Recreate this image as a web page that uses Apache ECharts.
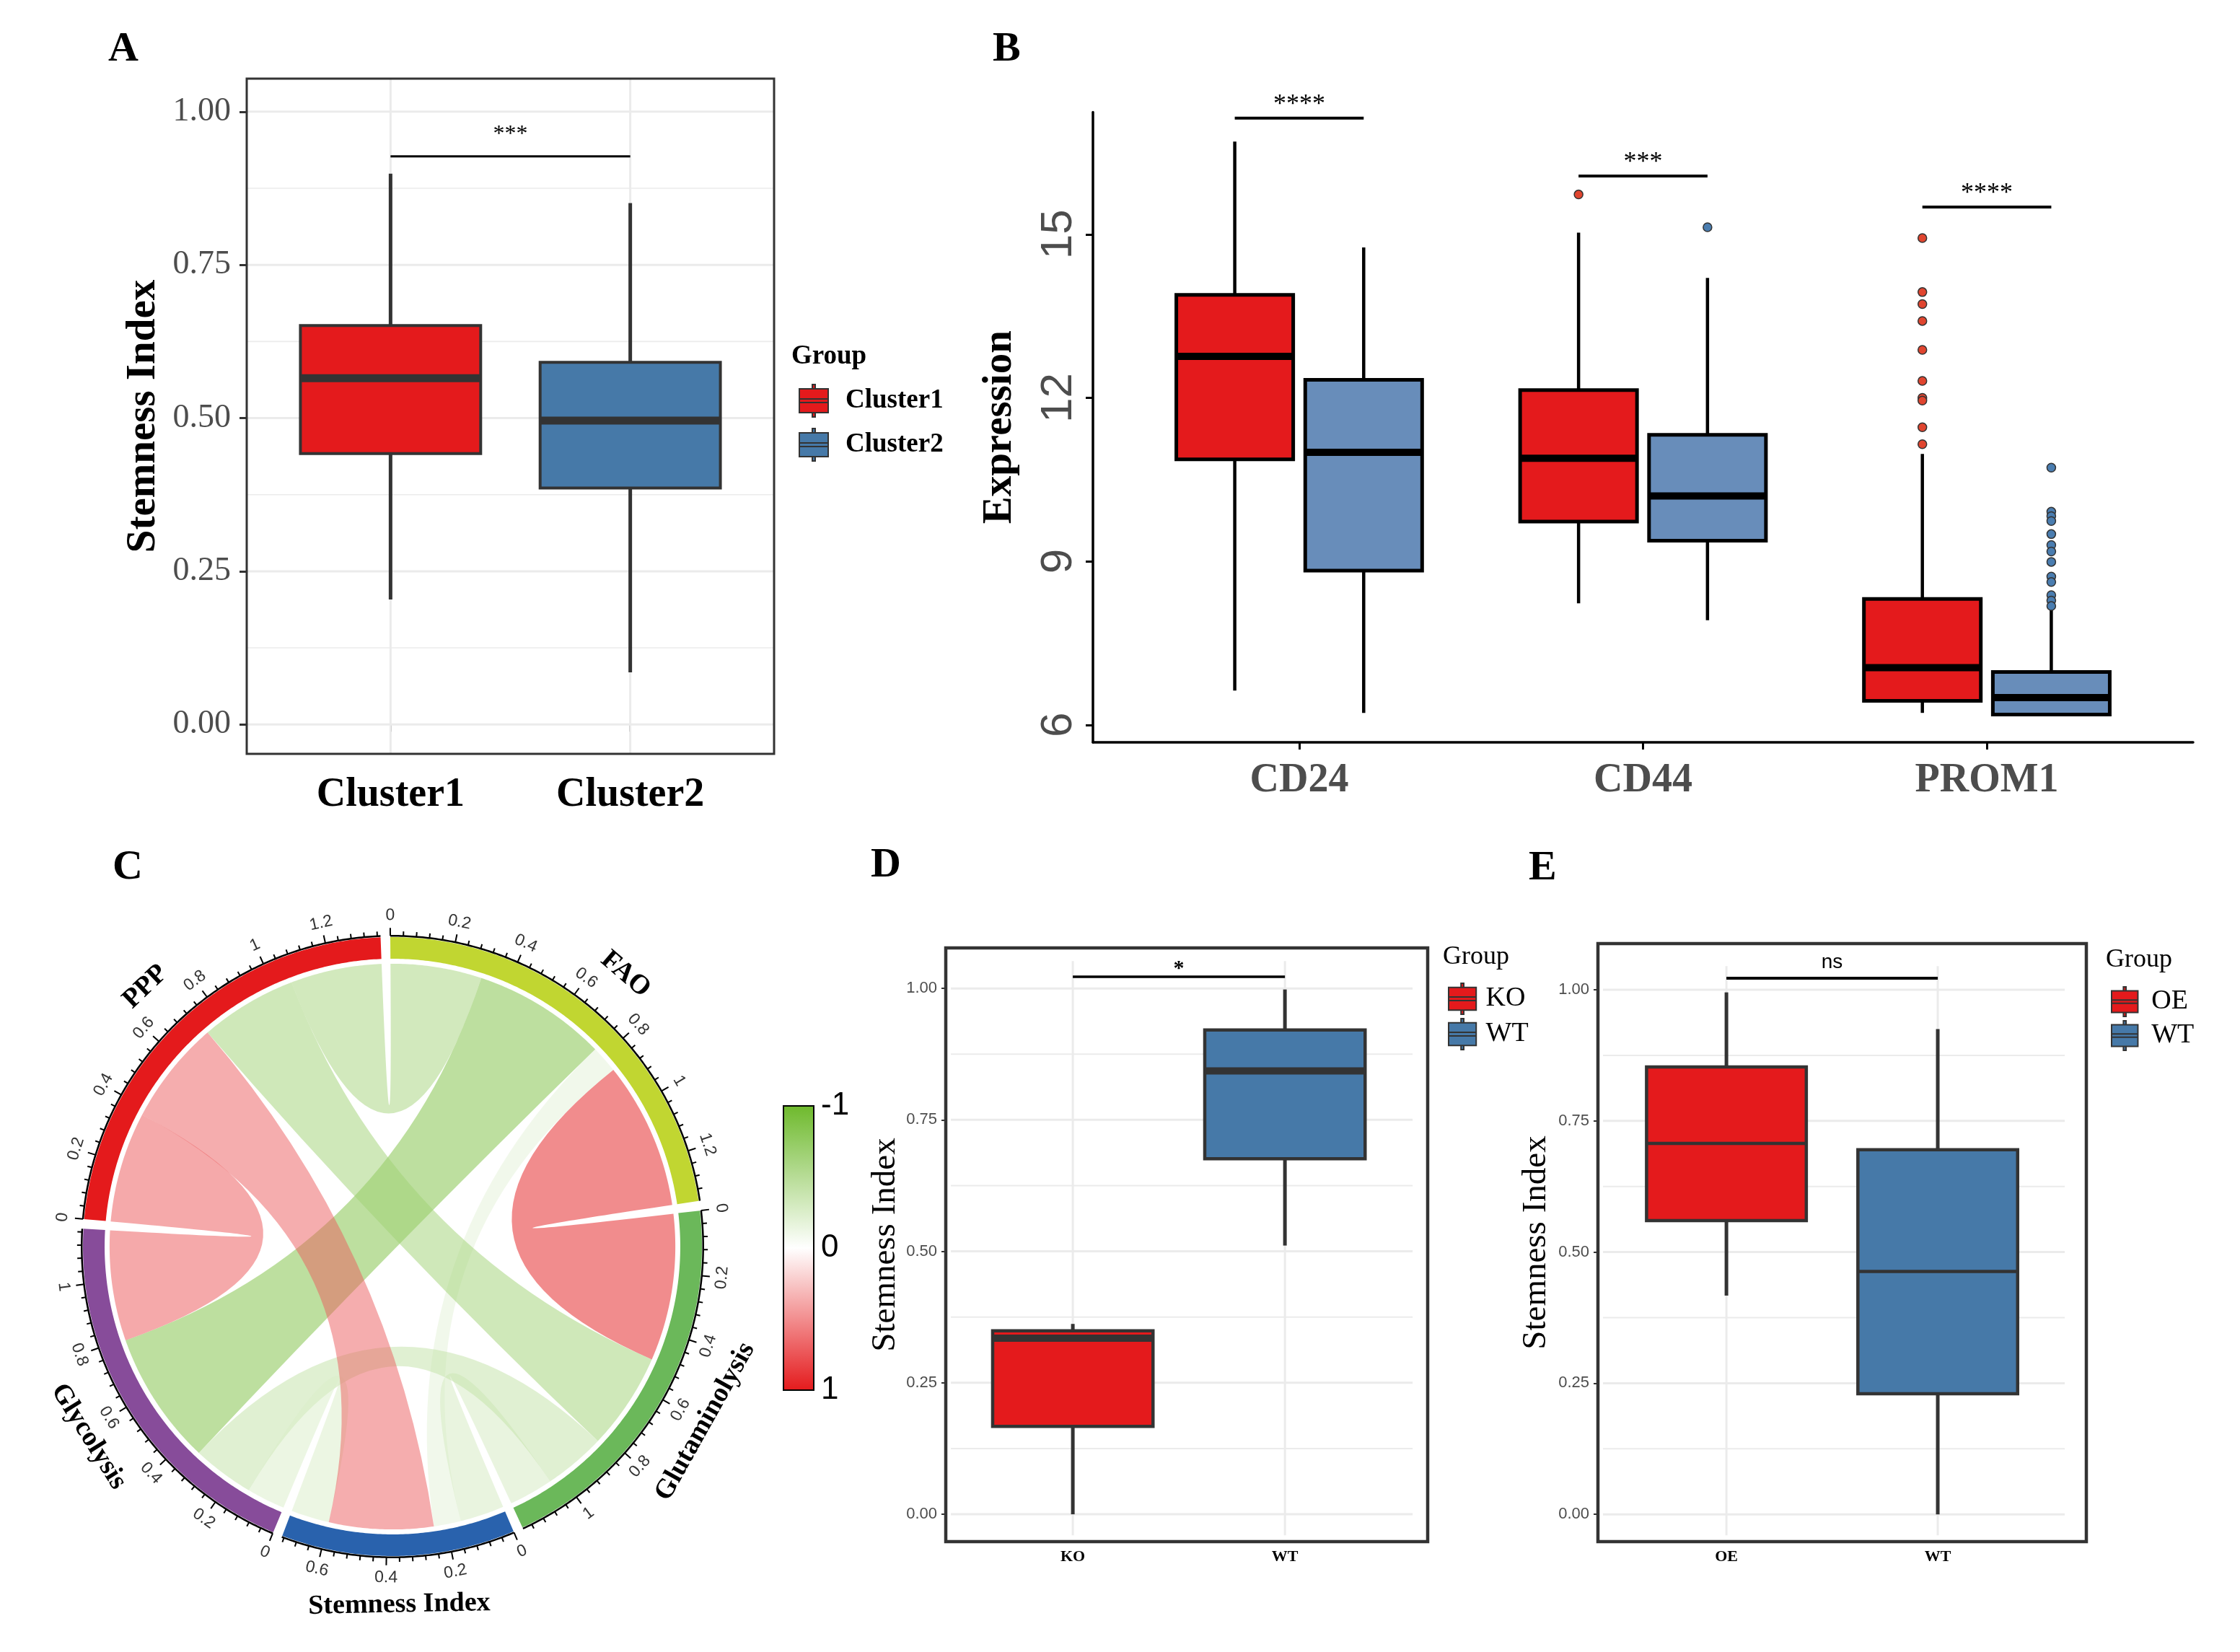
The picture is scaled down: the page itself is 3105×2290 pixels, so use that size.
<!DOCTYPE html>
<html><head><meta charset="utf-8">
<script src="https://cdn.jsdelivr.net/npm/echarts@6/dist/echarts.min.js"></script>
<style>html,body{margin:0;padding:0;background:#fff}#main{width:3105px;height:2290px}</style>
</head><body><div id="main"></div>
<script>
// ================= DATA =================
// Panel A  (box stats: [min, Q1, median, Q3, max])
const groupsA = ['Cluster1', 'Cluster2'];
const statsA_Cluster1 = [0.204, 0.442, 0.565, 0.651, 0.899];
const statsA_Cluster2 = [0.085, 0.386, 0.496, 0.591, 0.851];
const sigA = ['***'];
const sigA_y = [0.927];

// Panel B
const genesB = ['CD24', 'CD44', 'PROM1'];
const statsB_Cluster1 = [[6.63, 10.87, 12.76, 13.89, 16.70], [8.23, 9.73, 10.89, 12.14, 15.03], [6.22, 6.44, 7.05, 8.31, 10.97]];
const statsB_Cluster2 = [[6.22, 8.83, 11.00, 12.33, 14.76], [7.92, 9.38, 10.20, 11.32, 14.20], [6.18, 6.19, 6.50, 6.97, 8.16]];
const outliersB_Cluster1 = [[], [15.73], [14.93, 13.94, 13.72, 13.41, 12.88, 12.31, 12.00, 11.95, 11.46, 11.15]];
const outliersB_Cluster2 = [[], [15.13], [10.72, 9.91, 9.83, 9.74, 9.50, 9.30, 9.18, 8.99, 8.72, 8.62, 8.38, 8.28, 8.18]];
const sigB = ['****', '***', '****'];
const sigB_y = [17.13, 16.07, 15.50];
const ticksB = [6, 9, 12, 15];

// Panel C (chord of correlations)
const chordSectors = ['FAO', 'Glutaminolysis', 'Stemness Index', 'Glycolysis', 'PPP'];
const chordSectorColors = ['#C1D631', '#6BB85A', '#2962AD', '#874C9A', '#E41A1C'];
const linkSource = ['FAO', 'FAO', 'FAO', 'FAO', 'Glutaminolysis', 'Glutaminolysis', 'Glutaminolysis', 'Stemness Index', 'Stemness Index', 'Glycolysis'];
const linkTarget = ['Glutaminolysis', 'Stemness Index', 'Glycolysis', 'PPP', 'Stemness Index', 'Glycolysis', 'PPP', 'Glycolysis', 'PPP', 'PPP'];
const linkCorr = [0.50, -0.092, -0.455, -0.31, -0.15, -0.21, -0.33, -0.13, 0.355, 0.375];
const colorbarTicks = [-1, 0, 1];

// Panel D
const groupsD = ['KO', 'WT'];
const statsD_KO = [0.000, 0.167, 0.335, 0.349, 0.362];
const statsD_WT = [0.511, 0.676, 0.843, 0.921, 0.998];
const sigD = ['*'];
const sigD_y = [1.022];

// Panel E
const groupsE = ['OE', 'WT'];
const statsE_OE = [0.417, 0.560, 0.707, 0.853, 0.995];
const statsE_WT = [0.000, 0.230, 0.463, 0.695, 0.925];
const sigE = ['ns'];
const sigE_y = [1.022];

// shared tick values for stemness-index axes
const ticksStem = [0, 0.25, 0.5, 0.75, 1];
const minorStem = [0.125, 0.375, 0.625, 0.875];

// ================= STYLE / HELPERS =================
const SERIF = '"Liberation Serif", "DejaVu Serif", serif';
const SANS = '"Liberation Sans", Arial, sans-serif';
const RED = '#E41A1C', BLUE = '#4679A8', BLUE_B = '#688DBA';
const GREEN_RGB = [110, 185, 44], RED_RGB = [228, 26, 28];
const KEY_ICON = 'path://M18,0L22,0L22,6L18,6Z M0,6L40,6L40,20L0,20Z M0,20L40,20L40,25L0,25Z M0,25L40,25L40,39L0,39Z M18,39L22,39L22,45L18,45Z';

function solidCorrColor(r) {
  const t = Math.min(1, Math.abs(r));
  const base = r > 0 ? RED_RGB : GREEN_RGB;
  const c = base.map(b => Math.round(255 + (b - 255) * t));
  return 'rgb(' + c.join(',') + ')';
}
function linkColor(r) {
  const t = Math.min(1, Math.abs(r) * 2);
  const base = r > 0 ? RED_RGB : GREEN_RGB;
  const c = base.map(b => Math.round(255 + (b - 255) * t));
  return 'rgba(' + c.join(',') + ',0.5)';
}
function ln(p0, p1, stroke, w, cap) {
  return { type: 'line', shape: { x1: p0[0], y1: p0[1], x2: p1[0], y2: p1[1] }, style: { stroke: stroke, lineWidth: w, lineCap: cap || 'butt' } };
}
function boxRender(cfg) {
  return function (params, api) {
    const x = api.value(0), mn = api.value(1), q1 = api.value(2), md = api.value(3), q3 = api.value(4), mx = api.value(5);
    const hw = cfg.halfWidth;
    const tl = api.coord([x - hw, q3]), br = api.coord([x + hw, q1]);
    const ch = [
      ln(api.coord([x, mn]), api.coord([x, q1]), cfg.stroke, cfg.whisker),
      ln(api.coord([x, q3]), api.coord([x, mx]), cfg.stroke, cfg.whisker),
      { type: 'rect', shape: { x: tl[0], y: tl[1], width: br[0] - tl[0], height: br[1] - tl[1] }, style: { fill: api.visual('color'), stroke: cfg.stroke, lineWidth: cfg.box } },
      ln(api.coord([x - hw, md]), api.coord([x + hw, md]), cfg.stroke, cfg.median)
    ];
    return { type: 'group', children: ch };
  };
}
function frameRender(cfg) {
  return function (params, api) {
    const cs = params.coordSys;
    const ch = [];
    cfg.minor.forEach(v => ch.push(ln(api.coord([cfg.px0, v]), api.coord([cfg.px1, v]), '#EBEBEB', cfg.minorW)));
    cfg.major.forEach(v => ch.push(ln(api.coord([cfg.px0, v]), api.coord([cfg.px1, v]), '#EBEBEB', cfg.majorW)));
    cfg.cats.forEach(x => ch.push(ln(api.coord([x, cfg.py0]), api.coord([x, cfg.py1]), '#EBEBEB', cfg.majorW)));
    ch.push({ type: 'rect', shape: { x: cs.x, y: cs.y, width: cs.width, height: cs.height }, style: { fill: null, stroke: '#333', lineWidth: cfg.frameW } });
    return { type: 'group', children: ch };
  };
}
function sigRender(texts, cfg) {
  return function (params, api) {
    const i = params.dataIndex;
    const p0 = api.coord([api.value(0), api.value(2)]), p1 = api.coord([api.value(1), api.value(2)]);
    return { type: 'group', children: [
      ln(p0, p1, '#000', cfg.lw),
      { type: 'text', x: (p0[0] + p1[0]) / 2, y: p0[1] - cfg.gap, style: { text: texts[i], fill: '#000', font: cfg.font, align: 'center', verticalAlign: 'bottom' } }
    ] };
  };
}

// ---------- chord layout (computed from the link table) ----------
const nS = chordSectors.length;
const sIdx = n => chordSectors.indexOf(n);
const sectorTotal = chordSectors.map(s => linkCorr.reduce((a, r, k) => a + ((linkSource[k] === s || linkTarget[k] === s) ? Math.abs(r) : 0), 0));
const GAP_DEG = 1.8, CHORD_START = -0.4;
const degPerUnit = (360 - nS * GAP_DEG) / sectorTotal.reduce((a, b) => a + b, 0);
const sectorStart = [];
(function () { let acc = CHORD_START; sectorTotal.forEach((t, i) => { sectorStart[i] = acc; acc += t * degPerUnit + GAP_DEG; }); })();
const linkSpan = linkCorr.map(() => ({}));
chordSectors.forEach((s, i) => {
  const order = chordSectors.map((_, j) => j).filter(j => j !== i).sort((p, q) => ((i - p + nS) % nS) - ((i - q + nS) % nS));
  let pos = 0;
  order.forEach(j => {
    linkCorr.forEach((r, k) => {
      const a = sIdx(linkSource[k]), b = sIdx(linkTarget[k]);
      if ((a === i && b === j) || (a === j && b === i)) { linkSpan[k][i] = [pos, pos + Math.abs(r)]; pos += Math.abs(r); }
    });
  });
});
const R_OUT = 1.0, R_IN = 0.930, R_LINK = 0.914, R_AXIS = 1.004, R_MINOR = 1.019, R_MAJOR = 1.030, R_TICKLAB = 1.070, R_NAME = 1.158;
function pPt(api, r, deg) { const a = deg * Math.PI / 180; return api.coord([r * Math.sin(a), r * Math.cos(a)]); }
function arcPts(api, r, d0, d1) {
  const n = Math.max(2, Math.ceil(Math.abs(d1 - d0) / 0.5)); const pts = [];
  for (let k = 0; k <= n; k++) pts.push(pPt(api, r, d0 + (d1 - d0) * k / n));
  return pts;
}
function textRot(deg) {
  const t = ((deg % 360) + 360) % 360; const rad = t * Math.PI / 180;
  return (t > 90 && t < 270) ? Math.PI - rad : -rad;
}
function renderLink(params, api) {
  const k = params.dataIndex;
  const i = sIdx(linkSource[k]), j = sIdx(linkTarget[k]);
  const a1 = sectorStart[i] + linkSpan[k][i][0] * degPerUnit, a2 = sectorStart[i] + linkSpan[k][i][1] * degPerUnit;
  const b1 = sectorStart[j] + linkSpan[k][j][0] * degPerUnit, b2 = sectorStart[j] + linkSpan[k][j][1] * degPerUnit;
  const c = api.coord([0, 0]);
  const A = arcPts(api, R_LINK, a1, a2), B = arcPts(api, R_LINK, b1, b2);
  let d = 'M' + A[0][0] + ' ' + A[0][1];
  A.slice(1).forEach(p => { d += ' L' + p[0] + ' ' + p[1]; });
  d += ' Q' + c[0] + ' ' + c[1] + ' ' + B[0][0] + ' ' + B[0][1];
  B.slice(1).forEach(p => { d += ' L' + p[0] + ' ' + p[1]; });
  d += ' Q' + c[0] + ' ' + c[1] + ' ' + A[0][0] + ' ' + A[0][1] + ' Z';
  return { type: 'path', shape: { pathData: d }, style: { fill: linkColor(linkCorr[k]), stroke: null } };
}
function renderSector(params, api) {
  const i = params.dataIndex;
  const d0 = sectorStart[i], total = sectorTotal[i], d1 = d0 + total * degPerUnit;
  const ch = [];
  ch.push({ type: 'polygon', shape: { points: arcPts(api, R_OUT, d0, d1).concat(arcPts(api, R_IN, d1, d0)) }, style: { fill: chordSectorColors[i] } });
  ch.push({ type: 'polyline', shape: { points: arcPts(api, R_AXIS, d0, d1) }, style: { stroke: '#000', lineWidth: 2.5, fill: null } });
  const step = 0.04, nT = Math.floor(total / step + 1e-6);
  for (let k = 0; k <= nT; k++) {
    const u = k * step, deg = d0 + u * degPerUnit, major = (k % 5 === 0);
    ch.push(ln(pPt(api, R_AXIS, deg), pPt(api, major ? R_MAJOR : R_MINOR, deg), '#000', 2));
    if (major) {
      const p = pPt(api, R_TICKLAB, deg);
      ch.push({ type: 'text', x: p[0], y: p[1], rotation: textRot(deg), style: { text: String(+u.toFixed(1)), font: '23px ' + SANS, fill: '#333', align: 'center', verticalAlign: 'middle' } });
    }
  }
  const mid = (d0 + d1) / 2, pn = pPt(api, R_NAME, mid);
  ch.push({ type: 'text', x: pn[0], y: pn[1], rotation: textRot(mid), style: { text: chordSectors[i], font: 'bold 38px ' + SERIF, fill: '#000', align: 'center', verticalAlign: 'middle' } });
  return { type: 'group', children: ch };
}
function renderColorbar(params, api) {
  const cs = params.coordSys;
  const stops = [-1, -0.75, -0.5, -0.25, 0, 0.25, 0.5, 0.75, 1].map(v => ({ offset: (v + 1) / 2, color: solidCorrColor(v) }));
  return { type: 'rect', shape: { x: cs.x, y: cs.y, width: cs.width, height: cs.height },
    style: { fill: { type: 'linear', x: 0, y: 0, x2: 0, y2: 1, colorStops: stops }, stroke: '#000', lineWidth: 2 } };
}

// ================= OPTION =================
const DODGE = 0.1875;
const boxCfgA = { halfWidth: 0.376, stroke: '#333', whisker: 5, box: 4, median: 11 };
const boxCfgB = { halfWidth: 0.17, stroke: '#000', whisker: 4.5, box: 5, median: 10 };
const boxCfgD = { halfWidth: 0.378, stroke: '#333', whisker: 5, box: 4.5, median: 10 };
const boxCfgE = { halfWidth: 0.378, stroke: '#333', whisker: 5, box: 4.5, median: 4.5 };

function stemYAxis(grid, min, max, opts) {
  return {
    gridIndex: grid, type: 'value', min: min, max: max,
    axisLine: { show: false }, splitLine: { show: false },
    axisTick: { show: true, customValues: ticksStem, length: opts.tickLen, lineStyle: { color: '#333', width: opts.tickW } },
    axisLabel: { customValues: ticksStem, formatter: v => (+v).toFixed(2), fontFamily: opts.labFont, fontSize: opts.labSize, color: '#4D4D4D', margin: opts.labMargin, padding: opts.labPad || 0 },
    name: 'Stemness Index', nameLocation: 'middle', nameRotate: 90, nameGap: opts.nameGap, nameMoveOverlap: false,
    nameTextStyle: { fontFamily: SERIF, fontWeight: opts.nameWeight, fontSize: opts.nameSize, color: '#000' }
  };
}
function catXAxis(grid, min, max, cats, opts) {
  const vals = cats.map((_, i) => i + 1);
  return {
    gridIndex: grid, type: 'value', min: min, max: max,
    axisLine: { show: !!opts.line, lineStyle: { color: '#000', width: 3.5 } }, splitLine: { show: false },
    axisTick: { show: true, customValues: vals, length: opts.tickLen, lineStyle: { color: opts.tickColor || '#333', width: opts.tickW } },
    axisLabel: { customValues: vals, formatter: v => cats[Math.round(v) - 1], fontFamily: SERIF, fontWeight: 'bold', fontSize: opts.labSize, color: opts.labColor || '#000', margin: opts.labMargin }
  };
}

const option = {
  backgroundColor: '#ffffff',
  animation: false,
  title: [
    { text: 'A', left: 150, top: 40, padding: 0, textStyle: { fontFamily: SERIF, fontWeight: 'bold', fontSize: 58, color: '#000' } },
    { text: 'B', left: 1376, top: 40, padding: 0, textStyle: { fontFamily: SERIF, fontWeight: 'bold', fontSize: 58, color: '#000' } },
    { text: 'C', left: 156, top: 1174, padding: 0, textStyle: { fontFamily: SERIF, fontWeight: 'bold', fontSize: 58, color: '#000' } },
    { text: 'D', left: 1207, top: 1171, padding: 0, textStyle: { fontFamily: SERIF, fontWeight: 'bold', fontSize: 58, color: '#000' } },
    { text: 'E', left: 2119, top: 1175, padding: 0, textStyle: { fontFamily: SERIF, fontWeight: 'bold', fontSize: 58, color: '#000' } },
    { text: 'Group', left: 1097, top: 476, padding: 0, textStyle: { fontFamily: SERIF, fontWeight: 'bold', fontSize: 37, color: '#000' } },
    { text: 'Group', left: 2000, top: 1309, padding: 0, textStyle: { fontFamily: SERIF, fontWeight: 'normal', fontSize: 36, color: '#000' } },
    { text: 'Group', left: 2919, top: 1313, padding: 0, textStyle: { fontFamily: SERIF, fontWeight: 'normal', fontSize: 36, color: '#000' } }
  ],
  legend: [
    { data: groupsA.map(n => ({ name: n, icon: KEY_ICON })), orient: 'vertical', left: 1102, top: 527, itemWidth: 42, itemHeight: 45, itemGap: 14, selectedMode: false,
      itemStyle: { borderColor: '#333', borderWidth: 2 }, textStyle: { fontFamily: SERIF, fontWeight: 'bold', fontSize: 37, color: '#000', padding: [0, 0, 0, 18] } },
    { data: groupsD.map(n => ({ name: n, icon: KEY_ICON })), orient: 'vertical', left: 2002, top: 1357, itemWidth: 39, itemHeight: 43, itemGap: 4, selectedMode: false,
      itemStyle: { borderColor: '#333', borderWidth: 2 }, textStyle: { fontFamily: SERIF, fontSize: 38, color: '#000', padding: [0, 0, 0, 8] } },
    { data: groupsE.map(n => ({ name: n, icon: KEY_ICON })), orient: 'vertical', left: 2921, top: 1362, itemWidth: 38, itemHeight: 41, itemGap: 4, selectedMode: false,
      itemStyle: { borderColor: '#333', borderWidth: 2 }, textStyle: { fontFamily: SERIF, fontSize: 38, color: '#000', padding: [0, 0, 0, 13] } }
  ],
  grid: [
    { left: 342, top: 109, width: 731, height: 936 },            // A
    { left: 1515, top: 155.5, width: 1525, height: 873.5 },       // B
    { left: 7.75, top: 1191.75, width: 1072.5, height: 1072.5 },  // C chord
    { left: 1086, top: 1533, width: 42, height: 394 },            // C colour bar
    { left: 1311, top: 1314, width: 668, height: 823 },           // D
    { left: 2215, top: 1308, width: 677, height: 829 }            // E
  ],
  xAxis: [
    catXAxis(0, 0.4, 2.6, groupsA, { tickLen: 10, tickW: 3, labSize: 56, labMargin: 30 }),
    catXAxis(1, 0.4, 3.6, genesB, { line: true, tickLen: 10, tickW: 3, tickColor: '#000', labSize: 56, labColor: '#4D4D4D', labMargin: 26 }),
    { gridIndex: 2, type: 'value', min: -1.25, max: 1.25, show: false },
    { gridIndex: 3, type: 'value', min: 0, max: 1, show: false },
    catXAxis(4, 0.401, 2.673, groupsD, { tickLen: 6, tickW: 2, labSize: 22, labMargin: 10 }),
    catXAxis(5, 0.392, 2.703, groupsE, { tickLen: 6, tickW: 2, labSize: 22, labMargin: 10 })
  ],
  yAxis: [
    stemYAxis(0, -0.048, 1.054, { tickLen: 10, tickW: 3, labFont: SERIF, labSize: 46, labMargin: 22, nameGap: 114, nameWeight: 'bold', nameSize: 57 }),
    { gridIndex: 1, type: 'value', min: 5.68, max: 17.24,
      axisLine: { show: true, lineStyle: { color: '#000', width: 3.5 } }, splitLine: { show: false },
      axisTick: { show: true, customValues: ticksB, length: 10, lineStyle: { color: '#000', width: 3 } },
      axisLabel: { customValues: ticksB, rotate: 90, fontFamily: SANS, fontSize: 62, color: '#4D4D4D', margin: 16 },
      name: 'Expression', nameLocation: 'middle', nameRotate: 90, nameGap: 100, nameMoveOverlap: false,
      nameTextStyle: { fontFamily: SERIF, fontWeight: 'bold', fontSize: 57, color: '#000' } },
    { gridIndex: 2, type: 'value', min: -1.25, max: 1.25, show: false },
    { gridIndex: 3, type: 'value', min: -1, max: 1, interval: 1, inverse: true, position: 'right',
      axisLine: { show: false }, splitLine: { show: false },
      axisTick: { show: true, length: 9, lineStyle: { color: '#000', width: 2 } },
      axisLabel: { fontFamily: SANS, fontSize: 44, color: '#000', margin: 10, formatter: v => String(v) } },
    stemYAxis(4, -0.052, 1.077, { tickLen: 6, tickW: 2, labFont: SANS, labSize: 22, labMargin: 12, nameGap: 60, nameWeight: 'normal', nameSize: 47 }),
    stemYAxis(5, -0.052, 1.088, { tickLen: 6, tickW: 2, labFont: SANS, labSize: 22, labMargin: 12, labPad: [0, 0, 40, 0], nameGap: 62, nameWeight: 'normal', nameSize: 47 })
  ],
  series: [
    // ---- A ----
    { type: 'custom', name: 'frameA', xAxisIndex: 0, yAxisIndex: 0, z: 1, silent: true, data: [[1, 0]],
      renderItem: frameRender({ px0: 0.4, px1: 2.6, py0: -0.048, py1: 1.054, major: ticksStem, minor: minorStem, cats: [1, 2], majorW: 3, minorW: 1.6, frameW: 3 }) },
    { type: 'custom', name: 'Cluster1', xAxisIndex: 0, yAxisIndex: 0, z: 3, itemStyle: { color: RED }, data: [[1].concat(statsA_Cluster1)], renderItem: boxRender(boxCfgA) },
    { type: 'custom', name: 'Cluster2', xAxisIndex: 0, yAxisIndex: 0, z: 3, itemStyle: { color: BLUE }, data: [[2].concat(statsA_Cluster2)], renderItem: boxRender(boxCfgA) },
    { type: 'custom', name: 'sigA', xAxisIndex: 0, yAxisIndex: 0, z: 4, data: sigA_y.map(y => [1, 2, y]), renderItem: sigRender(sigA, { lw: 3, gap: 14, font: '32px ' + SERIF }) },
    // ---- B ----
    { type: 'custom', name: 'Cluster1', xAxisIndex: 1, yAxisIndex: 1, z: 3, itemStyle: { color: RED },
      data: statsB_Cluster1.map((s, i) => [i + 1 - DODGE].concat(s)), renderItem: boxRender(boxCfgB) },
    { type: 'custom', name: 'Cluster2', xAxisIndex: 1, yAxisIndex: 1, z: 3, itemStyle: { color: BLUE_B },
      data: statsB_Cluster2.map((s, i) => [i + 1 + DODGE].concat(s)), renderItem: boxRender(boxCfgB) },
    { type: 'scatter', name: 'outB1', xAxisIndex: 1, yAxisIndex: 1, z: 4, symbol: 'circle', symbolSize: 12,
      itemStyle: { color: '#E0452F', borderColor: '#333', borderWidth: 1.5, opacity: 1 },
      data: outliersB_Cluster1.flatMap((arr, i) => arr.map(v => [i + 1 - DODGE, v])) },
    { type: 'scatter', name: 'outB2', xAxisIndex: 1, yAxisIndex: 1, z: 4, symbol: 'circle', symbolSize: 12,
      itemStyle: { color: '#4A7DB0', borderColor: '#333', borderWidth: 1.5, opacity: 1 },
      data: outliersB_Cluster2.flatMap((arr, i) => arr.map(v => [i + 1 + DODGE, v])) },
    { type: 'custom', name: 'sigB', xAxisIndex: 1, yAxisIndex: 1, z: 4, data: sigB_y.map((y, i) => [i + 1 - DODGE, i + 1 + DODGE, y]),
      renderItem: sigRender(sigB, { lw: 4, gap: 0, font: '36px ' + SERIF }) },
    // ---- C ----
    { type: 'custom', name: 'links', xAxisIndex: 2, yAxisIndex: 2, z: 1, silent: true, data: linkCorr.map((r, k) => [0, 0, r]), renderItem: renderLink },
    { type: 'custom', name: 'sectors', xAxisIndex: 2, yAxisIndex: 2, z: 2, silent: true, data: sectorTotal.map(t => [0, 0, t]), renderItem: renderSector },
    { type: 'custom', name: 'colorbar', xAxisIndex: 3, yAxisIndex: 3, z: 2, silent: true, data: [[0.5, colorbarTicks[1]]], renderItem: renderColorbar },
    // ---- D ----
    { type: 'custom', name: 'frameD', xAxisIndex: 4, yAxisIndex: 4, z: 1, silent: true, data: [[1, 0]],
      renderItem: frameRender({ px0: 0.425, px1: 2.602, py0: -0.040, py1: 1.052, major: ticksStem, minor: minorStem, cats: [1, 2], majorW: 3, minorW: 2, frameW: 4.5 }) },
    { type: 'custom', name: 'KO', xAxisIndex: 4, yAxisIndex: 4, z: 3, itemStyle: { color: RED }, data: [[1].concat(statsD_KO)], renderItem: boxRender(boxCfgD) },
    { type: 'custom', name: 'WT', xAxisIndex: 4, yAxisIndex: 4, z: 3, itemStyle: { color: BLUE }, data: [[2].concat(statsD_WT)], renderItem: boxRender(boxCfgD) },
    { type: 'custom', name: 'sigD', xAxisIndex: 4, yAxisIndex: 4, z: 4, data: sigD_y.map(y => [1, 2, y]), renderItem: sigRender(sigD, { lw: 3.5, gap: -4, font: 'bold 30px ' + SERIF }) },
    // ---- E ----
    { type: 'custom', name: 'frameE', xAxisIndex: 5, yAxisIndex: 5, z: 1, silent: true, data: [[1, 0]],
      renderItem: frameRender({ px0: 0.416, px1: 2.601, py0: -0.040, py1: 1.045, major: ticksStem, minor: minorStem, cats: [1, 2], majorW: 3, minorW: 2, frameW: 4.5 }) },
    { type: 'custom', name: 'OE', xAxisIndex: 5, yAxisIndex: 5, z: 3, itemStyle: { color: RED }, data: [[1].concat(statsE_OE)], renderItem: boxRender(boxCfgE) },
    { type: 'custom', name: 'WT', xAxisIndex: 5, yAxisIndex: 5, z: 3, itemStyle: { color: BLUE }, data: [[2].concat(statsE_WT)], renderItem: boxRender(boxCfgE) },
    { type: 'custom', name: 'sigE', xAxisIndex: 5, yAxisIndex: 5, z: 4, data: sigE_y.map(y => [1, 2, y]), renderItem: sigRender(sigE, { lw: 4, gap: 8, font: '28px ' + SANS }) }
  ]
};

const chart = echarts.init(document.getElementById('main'), null, { renderer: 'canvas' });
chart.setOption(option);
</script>
</body></html>
